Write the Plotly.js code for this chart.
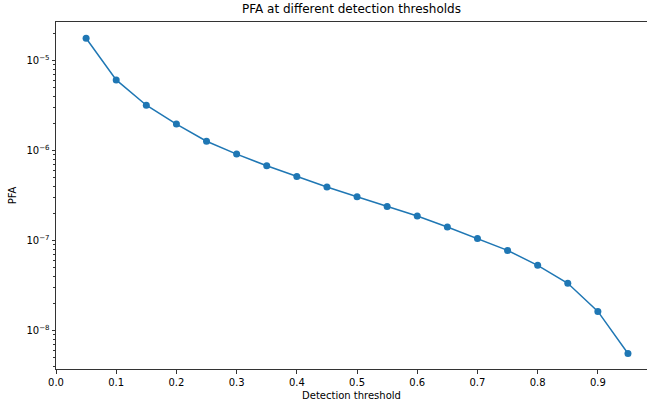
<!DOCTYPE html>
<html>
<head>
<meta charset="utf-8">
<script src="https://cdn.plot.ly/plotly-3.0.1.min.js"></script>
<style>
  html, body { margin: 0; padding: 0; background: #fff; overflow: hidden; }
  #chart { width: 647px; height: 410px; }
</style>
</head>
<body>
<div id="chart"></div>
<script>
// Data
const thresholds = [0.05, 0.10, 0.15, 0.20, 0.25, 0.30, 0.35, 0.40, 0.45, 0.50,
                    0.55, 0.60, 0.65, 0.70, 0.75, 0.80, 0.85, 0.90, 0.95];
const pfa = [1.77e-5, 6.1e-6, 3.19e-6, 1.97e-6, 1.27e-6, 9.14e-7, 6.78e-7, 5.16e-7, 3.94e-7, 3.07e-7,
             2.40e-7, 1.88e-7, 1.42e-7, 1.06e-7, 7.80e-8, 5.32e-8, 3.36e-8, 1.64e-8, 5.58e-9];
const xTickVals = [0.0, 0.1, 0.2, 0.3, 0.4, 0.5, 0.6, 0.7, 0.8, 0.9];
const yTickVals = [1e-8, 1e-7, 1e-6, 1e-5];
const yTickText = ['10<sup>−8</sup>', '10<sup>−7</sup>', '10<sup>−6</sup>', '10<sup>−5</sup>'];
const titleText = 'PFA at different detection thresholds';
const xTitle = 'Detection threshold';
const yTitle = 'PFA';

const font = 'DejaVu Sans, sans-serif';
const axisColor = '#333333';

const trace = {
  x: thresholds,
  y: pfa,
  type: 'scatter',
  mode: 'lines+markers',
  line: { color: '#1f77b4', width: 1.5 },
  marker: { color: '#1f77b4', size: 7 },
  hoverinfo: 'x+y'
};

const layout = {
  width: 647,
  height: 410,
  margin: { l: 56, r: 0, t: 22, b: 40.5, pad: 0 },
  paper_bgcolor: '#ffffff',
  plot_bgcolor: '#ffffff',
  showlegend: false,
  font: { family: font, size: 10, color: '#000000' },
  title: {
    text: titleText,
    font: { family: font, size: 12, color: '#000000' },
    x: 0.5, xref: 'paper', xanchor: 'center',
    y: 1, yref: 'container', yanchor: 'top', pad: { t: 5 }
  },
  xaxis: {
    range: [0, 0.9816],
    tickvals: xTickVals,
    tickformat: '.1f',
    ticks: 'outside',
    ticklen: 3.5,
    tickwidth: 0.8,
    tickcolor: axisColor,
    showline: true,
    linecolor: axisColor,
    linewidth: 1,
    mirror: true,
    showgrid: false,
    zeroline: false,
    tickfont: { family: font, size: 10, color: '#000000' },
    title: { text: xTitle, font: { family: font, size: 10, color: '#000000' }, standoff: 5 },
    automargin: false
  },
  yaxis: {
    type: 'log',
    range: [-8.425, -4.572],
    tickvals: yTickVals,
    ticktext: yTickText,
    ticks: 'outside',
    ticklen: 3.5,
    tickwidth: 0.8,
    tickcolor: axisColor,
    minor: { ticks: 'outside', ticklen: 2, tickwidth: 0.6, tickcolor: axisColor, dtick: 'D1', showgrid: false },
    showline: true,
    linecolor: axisColor,
    linewidth: 1,
    showgrid: false,
    zeroline: false,
    tickfont: { family: font, size: 10, color: '#000000' },
    title: { text: yTitle, font: { family: font, size: 10, color: '#000000' }, standoff: 7 },
    automargin: false
  }
};

Plotly.newPlot('chart', [trace], layout, { displayModeBar: false });
</script>
</body>
</html>
